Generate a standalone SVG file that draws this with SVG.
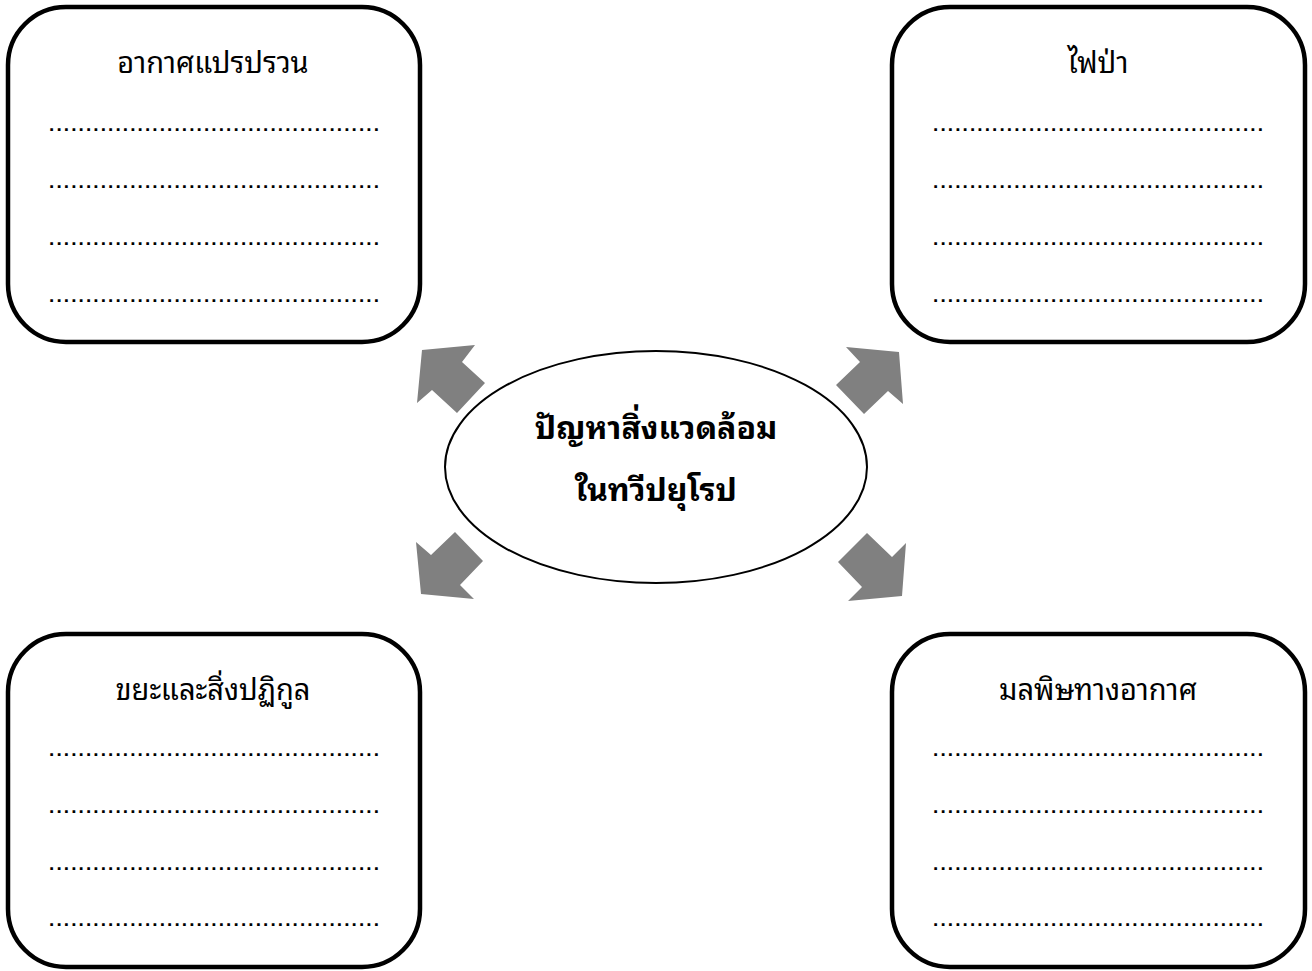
<svg xmlns="http://www.w3.org/2000/svg" width="1312" height="971" viewBox="0 0 1312 971">
<style>
.box{fill:#fff;stroke:#000;stroke-width:4.5}
.title{font-family:"Noto Sans Thai Looped","Loma","Garuda","Noto Sans Thai","Noto Sans",sans-serif;font-size:29px;fill:#000;text-anchor:middle}
.dots{font-family:"Liberation Sans",sans-serif;font-size:19px;font-weight:bold;fill:#000}
.center{font-family:"Noto Sans Thai Looped","Loma","Garuda","Noto Sans Thai","Noto Sans",sans-serif;font-size:32px;font-weight:bold;fill:#000;text-anchor:middle}
.arrow{fill:#808080;stroke:none}
</style>
<rect width="1312" height="971" fill="#fff"/>
<g id="connectors">
<polygon class="arrow" points="422,350 475,345 462,362 485,383 457,413 432,390 417,403"/>
<polygon class="arrow" points="846,347 899,352 903,404 888,391 864,414 836,385 860,362"/>
<polygon class="arrow" points="416,542 431,555 455,532 483,561 460,585 474,599 421,594"/>
<polygon class="arrow" points="867,533 892,557 906,543 902,596 848,601 862,587 838,562"/>
</g>
<g id="center">
<ellipse cx="656" cy="467" rx="211" ry="116" fill="#fff" stroke="#000" stroke-width="2"/>
<text class="center" x="656" y="439">ปัญหาสิ่งแวดล้อม</text>
<text class="center" x="656" y="501">ในทวีปยุโรป</text>
</g>
<g id="box-tl">
<rect class="box" x="8" y="7" width="412" height="335" rx="58"/>
<text class="title" x="213" y="73">อากาศแปรปรวน</text>
<text class="dots" x="49" y="131" textLength="330" lengthAdjust="spacing">.............................................</text>
<text class="dots" x="49" y="188" textLength="330" lengthAdjust="spacing">.............................................</text>
<text class="dots" x="49" y="245" textLength="330" lengthAdjust="spacing">.............................................</text>
<text class="dots" x="49" y="302" textLength="330" lengthAdjust="spacing">.............................................</text>
</g>
<g id="box-tr">
<rect class="box" x="892" y="7" width="413" height="335" rx="58"/>
<text class="title" x="1098" y="73">ไฟป่า</text>
<text class="dots" x="933" y="131" textLength="330" lengthAdjust="spacing">.............................................</text>
<text class="dots" x="933" y="188" textLength="330" lengthAdjust="spacing">.............................................</text>
<text class="dots" x="933" y="245" textLength="330" lengthAdjust="spacing">.............................................</text>
<text class="dots" x="933" y="302" textLength="330" lengthAdjust="spacing">.............................................</text>
</g>
<g id="box-bl">
<rect class="box" x="8" y="634" width="412" height="333" rx="58"/>
<text class="title" x="213" y="700">ขยะและสิ่งปฏิกูล</text>
<text class="dots" x="49" y="756" textLength="330" lengthAdjust="spacing">.............................................</text>
<text class="dots" x="49" y="813" textLength="330" lengthAdjust="spacing">.............................................</text>
<text class="dots" x="49" y="870" textLength="330" lengthAdjust="spacing">.............................................</text>
<text class="dots" x="49" y="926" textLength="330" lengthAdjust="spacing">.............................................</text>
</g>
<g id="box-br">
<rect class="box" x="892" y="634" width="413" height="333" rx="58"/>
<text class="title" x="1098" y="700">มลพิษทางอากาศ</text>
<text class="dots" x="933" y="756" textLength="330" lengthAdjust="spacing">.............................................</text>
<text class="dots" x="933" y="813" textLength="330" lengthAdjust="spacing">.............................................</text>
<text class="dots" x="933" y="870" textLength="330" lengthAdjust="spacing">.............................................</text>
<text class="dots" x="933" y="926" textLength="330" lengthAdjust="spacing">.............................................</text>
</g>
</svg>
